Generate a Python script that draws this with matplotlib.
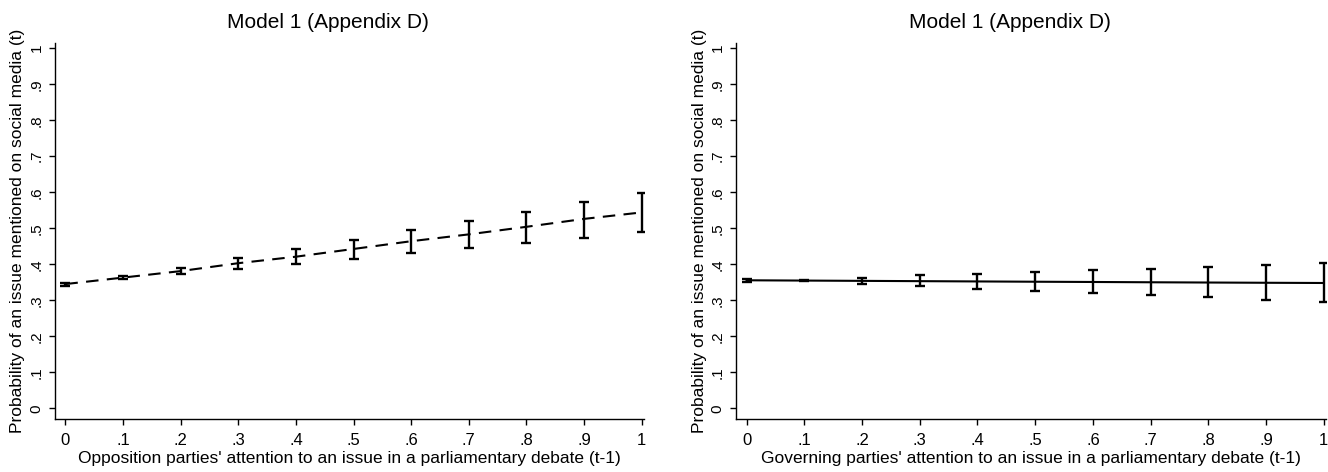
import numpy as np
import matplotlib
matplotlib.use("Agg")
import matplotlib.pyplot as plt

plt.rcParams['font.family'] = ['Liberation Sans', 'DejaVu Sans']

# attention share at t-1 (both panels)
x_vals = [0, .1, .2, .3, .4, .5, .6, .7, .8, .9, 1]
x_labels = ["0", ".1", ".2", ".3", ".4", ".5", ".6", ".7", ".8", ".9", "1"]
y_ticks = [0, .1, .2, .3, .4, .5, .6, .7, .8, .9, 1]
y_labels = ["0", ".1", ".2", ".3", ".4", ".5", ".6", ".7", ".8", ".9", "1"]

# opposition parties: predicted probability + 95% CI
opp_mean = [0.345, 0.363, 0.381, 0.403, 0.421, 0.4425, 0.464, 0.483, 0.504, 0.526, 0.544]
opp_lo = [0.341, 0.359, 0.374, 0.388, 0.401, 0.416, 0.431, 0.445, 0.459, 0.474, 0.489]
opp_hi = [0.349, 0.367, 0.390, 0.417, 0.442, 0.4675, 0.494, 0.520, 0.546, 0.573, 0.599]

# governing parties
gov_mean = [0.3555, 0.3547, 0.3539, 0.3531, 0.3523, 0.3515, 0.3508, 0.3500, 0.3493, 0.3486, 0.3480]
gov_lo = [0.352, 0.3525, 0.345, 0.339, 0.332, 0.327, 0.320, 0.315, 0.308, 0.302, 0.296]
gov_hi = [0.359, 0.3565, 0.363, 0.3694, 0.374, 0.379, 0.383, 0.388, 0.393, 0.398, 0.4036]

title = "Model 1 (Appendix D)"
ylab = "Probability of an issue mentioned on social media (t)"
xlab_opp = "Opposition parties' attention to an issue in a parliamentary debate (t-1)"
xlab_gov = "Governing parties' attention to an issue in a parliamentary debate (t-1)"

fig = plt.figure(figsize=(13.28, 4.72), dpi=100)
ax0 = fig.add_axes([0.0412, 0.1123, 0.4437, 0.797])
ax1 = fig.add_axes([0.5542, 0.1123, 0.4443, 0.797])


def draw_panel(ax, mean, lo, hi, ls, xlab):
    mean = np.array(mean)
    yerr = [mean - np.array(lo), np.array(hi) - mean]
    ax.plot(x_vals, mean, color="black", lw=1.5, ls=ls, dashes=(6, 4) if ls == "--" else (None, None))
    ax.errorbar(x_vals, mean, yerr=yerr, fmt="none", ecolor="black",
                elinewidth=1.7, capsize=3.5, capthick=1.7)
    ax.set_xlim(-0.0185, 1.004)
    ax.set_ylim(-0.0297, 1.015)
    ax.set_xticks(x_vals)
    ax.set_xticklabels(x_labels, fontsize=12)
    ax.set_yticks(y_ticks)
    ax.set_yticklabels(y_labels, fontsize=11, rotation=90, va="center")
    ax.tick_params(direction="out", length=4, width=1)
    ax.tick_params(axis="x", pad=6)
    ax.tick_params(axis="y", pad=4)
    for s in ["top", "right"]:
        ax.spines[s].set_visible(False)
    ax.spines["left"].set_linewidth(1)
    ax.spines["bottom"].set_linewidth(1)
    ax.set_title(title, fontsize=15, x=0.464, pad=11)
    ax.set_ylabel(ylab, fontsize=12.5, labelpad=3)
    ax.set_xlabel(xlab, fontsize=12.5, labelpad=2)


draw_panel(ax0, opp_mean, opp_lo, opp_hi, "--", xlab_opp)
draw_panel(ax1, gov_mean, gov_lo, gov_hi, "-", xlab_gov)

fig.savefig("out.png", dpi=100)
